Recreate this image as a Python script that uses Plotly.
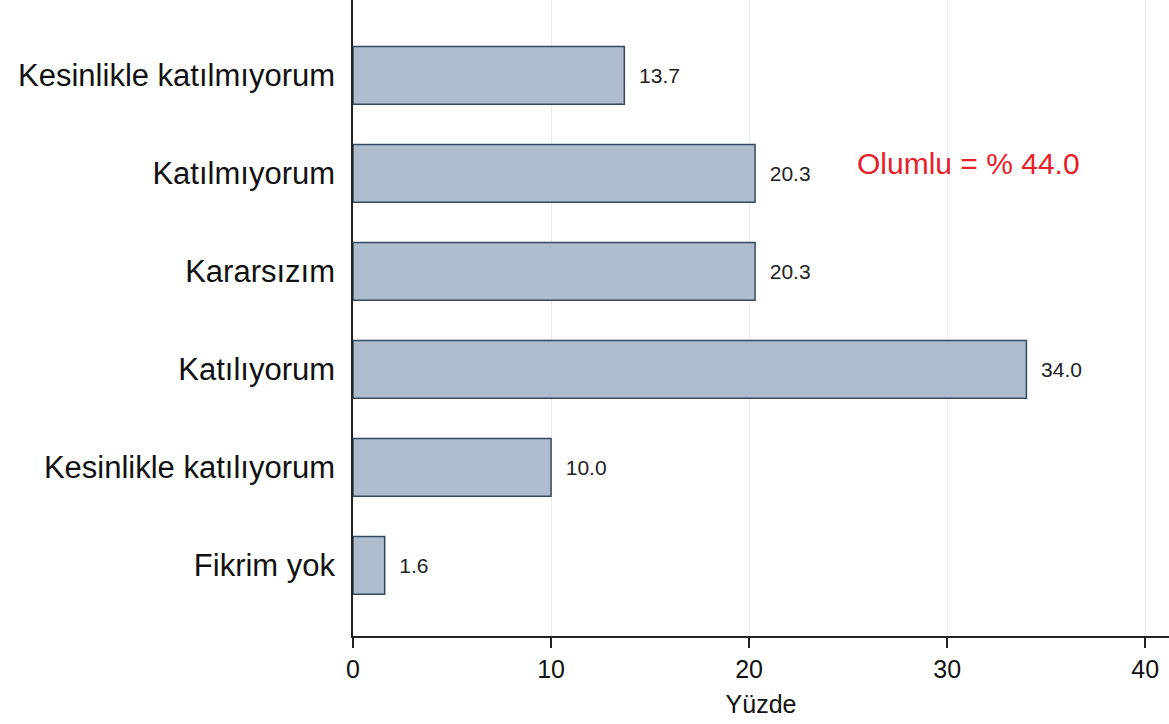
import plotly.graph_objects as go

# cevap kategorileri (alttan üste)
categories = ["Fikrim yok", "Kesinlikle katılıyorum", "Katılıyorum",
              "Kararsızım", "Katılmıyorum", "Kesinlikle katılmıyorum"]
percent = [1.6, 10.0, 34.0, 20.3, 20.3, 13.7]
x_ticks = [0, 10, 20, 30, 40]
note_text = "Olumlu = % 44.0"

fig = go.Figure()

fig.add_trace(go.Bar(
    x=percent, y=categories, orientation="h",
    width=0.59,
    marker=dict(color="#aebdce", line=dict(color="#34495e", width=1.5)),
    text=["  " + f"{v:.1f}" for v in percent],
    textposition="outside",
    textfont=dict(size=21, color="#222222"),
    cliponaxis=False,
))

fig.add_annotation(x=31.1, y="Katılmıyorum", text=note_text, showarrow=False,
                   font=dict(size=30, color="#e8202a"), xanchor="center",
                   yshift=10)

fig.update_layout(
    width=1169, height=724,
    margin=dict(l=353, r=0, t=0, b=88, autoexpand=False),
    plot_bgcolor="white", paper_bgcolor="white",
    font=dict(family="Liberation Sans, Arial, sans-serif", color="#111111"),
    showlegend=False,
    bargap=0.41,
)
fig.update_xaxes(range=[0, 41.2], tickvals=x_ticks, tickfont=dict(size=25),
                 ticks="outside", ticklen=10, tickwidth=1.5, tickcolor="#222",
                 showline=True, linecolor="#222", linewidth=1.5,
                 showgrid=True, gridcolor="#e8ecef", gridwidth=1,
                 zeroline=False, automargin=False,
                 title=dict(text="Yüzde", font=dict(size=25), standoff=14))
fig.update_yaxes(categoryorder="array", categoryarray=categories,
                 range=[-0.72, 5.77], tickfont=dict(size=31),
                 showline=True, linecolor="#222", linewidth=1.5,
                 ticks="", ticklabelstandoff=10, automargin=False,
                 showgrid=False)

# sayfa kenar boşluğunu kaldır
fig.write_html("out.html", config={"displayModeBar": False},
               post_script="document.body.style.margin='0';")
